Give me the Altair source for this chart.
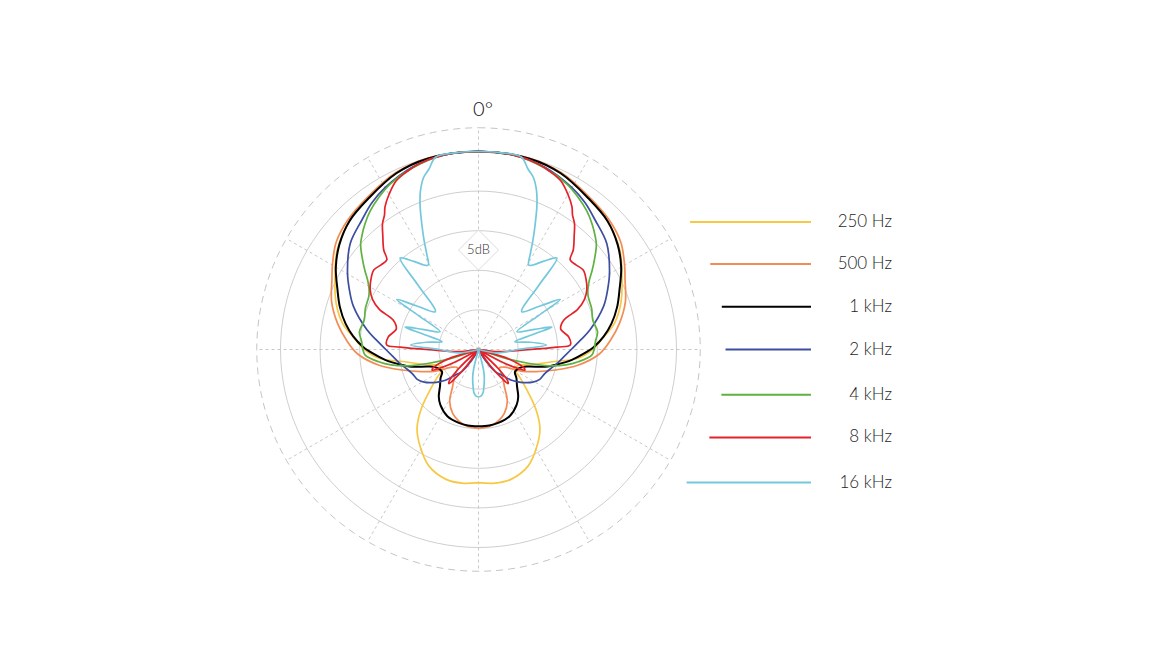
import altair as alt
import pandas as pd

# ---------------- data ----------------
FREQS = ["250 Hz", "500 Hz", "1 kHz", "2 kHz", "4 kHz", "8 kHz", "16 kHz"]
COLORS = ["#f6c844", "#f28c55", "#000000", "#3c4ea0", "#5fb141", "#e4222a", "#74c8dc"]
WIDTHS = [1.7, 1.7, 2.0, 1.7, 1.7, 1.7, 1.7]

# angle in degrees (0 = front, clockwise, right half in path order), level in dB
ang_250 = [0, 15, 25, 36, 45, 55, 65, 72, 79, 85, 90, 95, 99, 105, 112, 118, 124, 130, 136, 142, 149, 157, 166, 173, 180]
db_250 = [0, -0.05, -0.45, -1.35, -2.0, -3.2, -5.0, -6.1, -7.5, -9.3, -10.6, -12.4, -15.3, -17.8, -19.6, -19.9, -18.7, -17.0, -14.6, -12.4, -10.7, -9.0, -8.1, -8.0, -8.2]

ang_500 = [0, 15, 25, 36, 45, 53, 60, 64.5, 72, 79.5, 86, 92, 99, 105, 111, 117, 124, 131, 138, 145, 151, 158, 165, 172, 180]
db_500 = [0, 0, -0.35, -1.2, -1.75, -2.5, -3.7, -4.5, -5.5, -6.9, -8.3, -9.7, -12.3, -15.0, -17.2, -19.0, -21.0, -21.5, -20.5, -19.3, -17.5, -16.3, -15.6, -15.2, -15.05]

ang_1k = [0, 15, 25, 36, 45, 53, 60, 66.7, 73, 79, 84, 88.6, 92, 96.5, 100.5, 104.5, 109, 114, 121.6, 127, 133.5, 140, 145.5, 155, 165, 172, 180]
db_1k = [0, -0.06, -0.45, -1.4, -2.0, -3.0, -4.2, -5.6, -6.7, -7.9, -9.1, -10.4, -11.6, -13.2, -14.8, -16.3, -18.4, -19.3, -19.6, -19.0, -18.3, -17.2, -16.5, -15.7, -15.4, -15.3, -15.3]

ang_2k = [0, 10, 20, 30, 36, 42, 50.5, 59.5, 65, 71, 80, 84.5, 90, 95, 100, 105, 110, 116, 121, 126, 130, 133, 137, 143, 148, 152, 180]
db_2k = [0, -0.05, -0.5, -1.4, -2.1, -3.0, -4.0, -5.8, -7.0, -8.3, -10.7, -12.0, -13.3, -14.2, -14.9, -15.6, -16.1, -16.4, -17.0, -17.9, -18.7, -19.3, -20.5, -21.5, -23.5, -25, -25]

ang_4k = [0, 10, 20, 28, 33, 38, 42, 46, 48.4, 52, 55.4, 58, 61, 64, 70, 75.5, 81.5, 86, 90, 93, 97, 100, 103, 105.5, 108, 111, 180]
db_4k = [0, -0.05, -0.6, -1.3, -2.0, -2.8, -3.6, -4.5, -5.1, -6.4, -7.6, -8.5, -9.2, -9.6, -9.8, -10.1, -9.8, -10.2, -10.4, -10.7, -12.3, -13.8, -15.8, -18.5, -21.5, -25, -25]

ang_8k = [0, 10, 18, 22, 26, 30, 33.2, 35, 37.3, 40, 43.6, 45.6, 49, 52.8, 57, 61.2, 64.7, 68, 71, 76, 82, 87.2, 88.2, 90.2, 96.4, 101,
          106.5, 109.5, 112, 114, 115.5, 118, 121, 131, 134, 137, 139, 141, 144, 147, 180]
db_8k = [0, -0.05, -0.4, -0.8, -1.3, -2.4, -3.45, -4.3, -5.0, -6.2, -7.65, -8.8, -8.7, -8.4, -8.8, -9.4, -10.2, -11.5, -13.6, -14.3, -13.5, -13.4, -15.1, -18.75, -22.5, -25,
         -21.5, -19.8, -18.8, -18.6, -19.4, -21.5, -25, -25, -21.5, -19.6, -19.3, -20.3, -22.5, -25, -25]

ang_16k = [0, 6, 12.5, 15.4, 17.7, 20, 22, 24.2, 26.5, 28.5, 30.9, 36.3, 40.6, 43.2, 48.8, 54.9, 58.5, 60.5, 65.2, 70.2, 73, 74.5, 78, 82, 86.2, 90, 100, 108,
           160, 166, 168, 171, 174, 177, 180]
db_16k = [0, 0, -0.1, -1.4, -2.2, -3.6, -5.3, -7.5, -9.6, -11.3, -12.6, -11.2, -9.8, -13.8, -17.75, -15.4, -12.9, -16.3, -19.65, -17.5, -15.3, -17.8, -20.3, -18.4, -16.4, -20.0, -22.5, -25,
          -25, -22.5, -21.5, -20.5, -19.5, -19.1, -19.0]

ANGLES = [ang_250, ang_500, ang_1k, ang_2k, ang_4k, ang_8k, ang_16k]
LEVELS = [db_250, db_500, db_1k, db_2k, db_4k, db_8k, db_16k]

RINGS = [5, 10, 15, 20, 25]      # solid rings (dB + 25)
OUTER = 28                        # dashed outer ring
SPOKES = list(range(0, 360, 30))
LEGEND_Y = [16.1, 10.8, 5.4, 0.0, -5.7, -11.1, -16.8]

# ---------------- layout ----------------
PX = 7.92                 # pixels per dB
W, H = 1150, 640
CX, CY = 470.5, 341.5     # pole position inside the plot area (pixels)
xs = alt.Scale(domain=[-CX / PX, (W - CX) / PX], nice=False, zero=False)
ys = alt.Scale(domain=[-(H - CY) / PX, CY / PX], nice=False, zero=False)


def X(f):
    return alt.X(f, type="quantitative", scale=xs, axis=None)


def Y(f):
    return alt.Y(f, type="quantitative", scale=ys, axis=None)


layers = []

# grid rings
ring_df = pd.DataFrame([{"ring": r, "a": a} for r in RINGS for a in range(0, 361, 3)])
layers.append(
    alt.Chart(ring_df).transform_calculate(
        x="datum.ring * sin(datum.a * PI / 180)",
        y="datum.ring * cos(datum.a * PI / 180)",
    ).mark_line(color="#c8c8c8", strokeWidth=0.9).encode(
        x=X("x"), y=Y("y"), detail="ring:N", order="a:Q"
    )
)

outer_df = pd.DataFrame([{"ring": OUTER, "a": a} for a in range(0, 361, 2)])
layers.append(
    alt.Chart(outer_df).transform_calculate(
        x="datum.ring * sin(datum.a * PI / 180)",
        y="datum.ring * cos(datum.a * PI / 180)",
    ).mark_line(color="#bdbdbd", strokeWidth=0.9, strokeDash=[7, 5]).encode(
        x=X("x"), y=Y("y"), order="a:Q"
    )
)

# radial spokes
spoke_df = pd.DataFrame({"a": SPOKES})
layers.append(
    alt.Chart(spoke_df).transform_calculate(
        x0="0", y0="0",
        x1=f"{OUTER} * sin(datum.a * PI / 180)",
        y1=f"{OUTER} * cos(datum.a * PI / 180)",
    ).mark_rule(color="#c2c2c2", strokeWidth=0.9, strokeDash=[3, 3]).encode(
        x=X("x0"), y=Y("y0"), x2="x1:Q", y2="y1:Q"
    )
)

# "5dB" badge
badge_df = pd.DataFrame({"x": [0.0], "y": [12.56], "t": ["5dB"]})
layers.append(
    alt.Chart(badge_df).mark_point(
        shape="diamond", size=1600, filled=True, fill="white", fillOpacity=1,
        stroke="#dcdcdc", strokeWidth=1, opacity=1
    ).encode(x=X("x"), y=Y("y"))
)
layers.append(
    alt.Chart(badge_df).mark_text(
        font="Lato", fontSize=13, fontWeight=300, color="#333333", align="center", baseline="middle"
    ).encode(x=X("x"), y=Y("y"), text="t:N")
)

# polar curves
for f, col, w, a, d in zip(FREQS, COLORS, WIDTHS, ANGLES, LEVELS):
    rows = []
    k = 0
    for i in range(len(a) - 1, 0, -1):
        rows.append({"order": k, "ang": -a[i], "db": d[i]})
        k += 1
    for i in range(len(a)):
        rows.append({"order": k, "ang": a[i], "db": d[i]})
        k += 1
    df = pd.DataFrame(rows)
    layers.append(
        alt.Chart(df).transform_calculate(
            u="max(datum.db + 25, 0)"
        ).transform_calculate(
            x="datum.u * sin(datum.ang * PI / 180)",
            y="datum.u * cos(datum.ang * PI / 180)",
        ).mark_line(color=col, strokeWidth=w, interpolate="catmull-rom").encode(
            x=X("x"), y=Y("y"), order="order:Q"
        )
    )

# "0°" label
top_df = pd.DataFrame({"x": [0.57], "y": [29.48], "t": ["0°"]})
layers.append(
    alt.Chart(top_df).mark_text(
        font="Lato", fontSize=20, fontWeight=300, color="#111111", align="center", baseline="alphabetic"
    ).encode(x=X("x"), y=Y("y"), text="t:N")
)

# legend
leg_df = pd.DataFrame({"freq": FREQS, "yl": LEGEND_Y})
cscale = alt.Scale(domain=FREQS, range=COLORS)
layers.append(
    alt.Chart(leg_df).transform_calculate(
        xs="sqrt(31.19 * 31.19 - datum.yl * datum.yl)",
        xe="41.98",
    ).mark_rule(strokeWidth=2).encode(
        x=X("xs"), x2="xe:Q", y=Y("yl"),
        color=alt.Color("freq:N", scale=cscale, legend=None),
    )
)
layers.append(
    alt.Chart(leg_df).transform_calculate(xt="52.21").mark_text(
        font="Lato", fontSize=17, fontWeight=300, color="#1e1e1e", align="right", baseline="middle"
    ).encode(x=X("xt"), y=Y("yl"), text="freq:N")
)

chart = alt.layer(*layers).properties(
    width=W, height=H, padding=0, background="white"
).configure_view(stroke=None)

chart.save("out.html", embed_options={"renderer": "svg", "actions": False})
